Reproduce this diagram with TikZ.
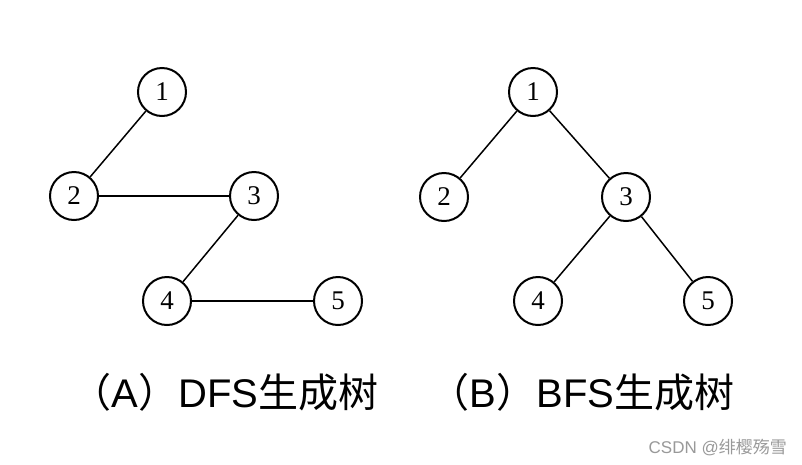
\documentclass[tikz,border=0pt]{standalone}
\usepackage{fontspec}
\setmainfont{Liberation Sans}
\newfontfamily\cjk{Noto Sans CJK SC}
\newfontfamily\numfont{Liberation Serif}
\begin{document}
\begin{tikzpicture}[x=1pt,y=-1pt,
  vtx/.style={circle,draw,line width=2pt,minimum size=48pt,inner sep=0pt,font=\numfont\fontsize{27}{30}\selectfont},
  link/.style={line width=1.5pt},
  captext/.style={anchor=base,inner sep=0pt,font=\fontsize{40}{48}\selectfont},
  wmtext/.style={inner sep=0pt,text=black!40,font=\fontsize{17}{20}\selectfont}]
\useasboundingbox[fill=white] (0,0) rectangle (802,464);
% DFS tree
\node[vtx] (a1) at (162,92) {1};
\node[vtx] (a2) at (74,196) {2};
\node[vtx] (a3) at (254,196) {3};
\node[vtx] (a4) at (167,301) {4};
\node[vtx] (a5) at (338,301) {5};
\draw[link] (a1) -- (a2);
\draw[link] (a2) -- (a3);
\draw[link] (a3) -- (a4);
\draw[link] (a4) -- (a5);
% BFS tree
\node[vtx] (b1) at (533,92) {1};
\node[vtx] (b2) at (444,197) {2};
\node[vtx] (b3) at (626,197) {3};
\node[vtx] (b4) at (538,301) {4};
\node[vtx] (b5) at (708,301) {5};
\draw[link] (b1) -- (b2);
\draw[link] (b1) -- (b3);
\draw[link] (b3) -- (b4);
\draw[link] (b3) -- (b5);
% captions
\node[captext] (ca) at (225,407) {{\cjk （}A{\cjk ）}DFS{\cjk 生成树}};
\node[captext] (cb) at (582,407) {{\cjk （}B{\cjk ）}BFS{\cjk 生成树}};
\node[wmtext,anchor=base east] (wm) at (787,453) {CSDN @{\cjk 绯樱殇雪}};
\end{tikzpicture}
\end{document}
